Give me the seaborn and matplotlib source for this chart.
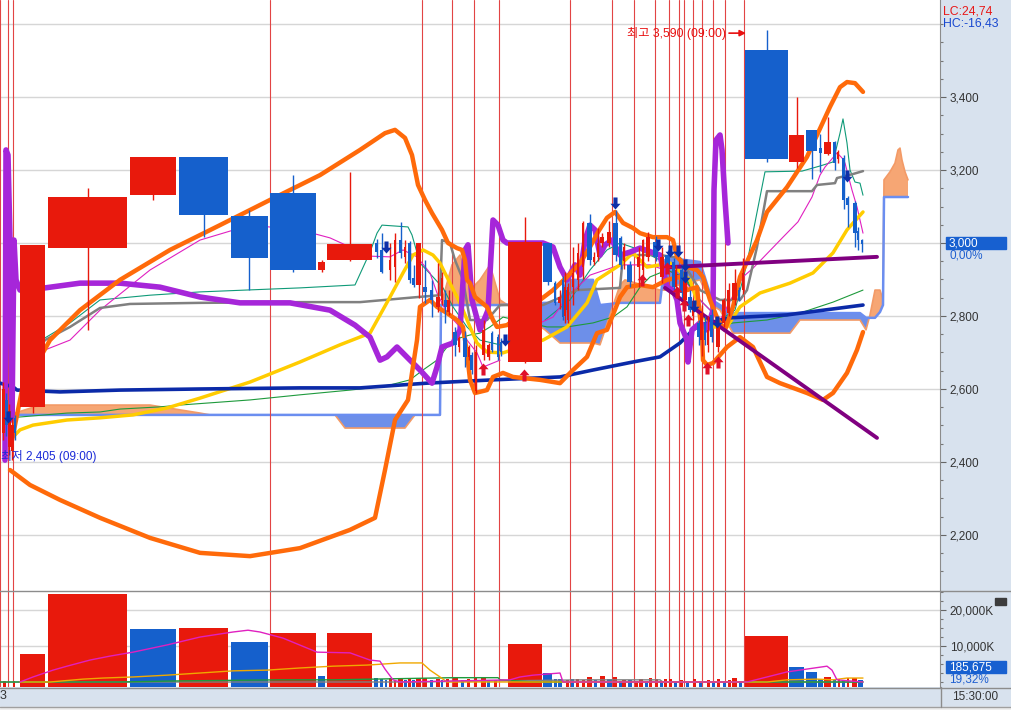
import numpy as np
import matplotlib
matplotlib.use("Agg")
import matplotlib.pyplot as plt
from matplotlib.path import Path
from matplotlib.patches import Rectangle
from matplotlib.lines import Line2D
import seaborn as sns

sns.set_style("white")
plt.rcParams['font.family'] = ['Liberation Sans', 'Noto Sans CJK KR', 'DejaVu Sans']

# ---- candles (position, width, open, high, low, close) ----
cd_x = [3, 6, 9, 12, 15,
        32.5, 87.5, 153, 203.5, 249, 293, 321.5, 349.5,
        376.5, 381.5, 389.5, 394.5, 400.5, 405, 409.5, 413.5, 418.5, 425, 431.5, 437.5, 442, 445, 448.5, 455, 459, 465, 469, 471.5, 476, 483.5, 488.5, 492, 497.5, 501,
        525, 547.5,
        555, 559.5, 562.5, 564.5, 566.5, 568, 573, 578, 582.5, 589.5, 594, 598, 602, 609, 615.5, 620.5, 624, 629.5, 638.5, 643, 648, 655.5, 662, 667.5, 673.5, 676, 681.5, 685, 690, 692.5, 698.5, 701.5, 705, 707.5, 711.5, 718, 723.5, 728.5, 734.5, 739, 743,
        766.5, 796.5, 811.5, 820, 827.5, 834.5, 837.5, 843.5, 847.5, 854.5, 858, 861.5]
cd_w = [3, 3, 3, 3, 2,
        25, 79, 46, 49, 37, 46, 7, 45,
        3, 3, 2, 2, 3, 2.5, 3, 3, 5, 4, 3, 4, 2, 3, 3, 4, 2, 4, 2, 3, 2.5, 3, 3, 2, 2, 2,
        34, 9,
        2, 3, 1.5, 1.5, 1.5, 2, 2, 2, 1.5, 5, 2, 2, 4, 4, 5, 3, 2, 5, 3, 2, 4, 5, 4, 5, 3, 2, 3, 4, 4, 1, 3, 3, 2, 1.5, 3, 4, 3, 3, 5, 2, 2,
        43, 15, 11, 3, 7, 3, 1.5, 3, 3, 4, 2, 2]
cd_o = [2480, 2570, 2440, 2430, 2520,
        2551, 2986, 3131, 3236, 3074, 3137, 2926, 2953,
        3000, 2981, 2926, 2934, 3008, 2962, 3000, 2904, 2885, 2880, 2871, 2825, 2844, 2844, 2811, 2756, 2715, 2740, 2688, 2693, 2595, 2693, 2688, 2753, 2742, 2730,
        2674, 3000,
        2890, 2836, 2899, 2800, 2871, 2789, 2879, 2899, 2934, 3055, 2948, 2962, 3000, 3000, 3055, 3013, 2950, 2940, 2934, 2926, 2962, 3003, 2907, 2967, 2948, 2879, 2926, 2844, 2852, 2800, 2781, 2734, 2781, 2721, 2803, 2715, 2781, 2808, 2844, 2871, 2871,
        3529, 3222, 3310, 3260, 3244, 3277, 3230, 3233, 3123, 3110, 3033, 3008]
cd_h = [2620, 2590, 2560, 2520, 2530,
        2995, 3150, 3236, 3236, 3090, 3186, 2953, 3195,
        3010, 3027, 3000, 3027, 3058, 3008, 3005, 2940, 3000, 2953, 2899, 2945, 2920, 2870, 2871, 2770, 2745, 2760, 2720, 2700, 2720, 2790, 2725, 2760, 2750, 2740,
        3071, 3000,
        2895, 2870, 2910, 2920, 2880, 2890, 2990, 3000, 3060, 3080, 2975, 3040, 3027, 3060, 3090, 3020, 3000, 2950, 2990, 3010, 3030, 3020, 2990, 2980, 2960, 2940, 2940, 2930, 2870, 2850, 2790, 2830, 2800, 2800, 2820, 2790, 2850, 2890, 2930, 2880, 2960,
        3584, 3400, 3310, 3300, 3345, 3280, 3255, 3240, 3130, 3115, 3044, 3010]
cd_l = [2460, 2470, 2420, 2405, 2460,
        2534, 2762, 3118, 3016, 2870, 2920, 2920, 2950,
        2960, 2918, 2899, 2893, 2959, 2945, 2890, 2880, 2850, 2836, 2797, 2811, 2830, 2780, 2803, 2690, 2700, 2660, 2680, 2640, 2590, 2680, 2680, 2700, 2680, 2690,
        2670, 2885,
        2830, 2820, 2790, 2780, 2810, 2780, 2830, 2870, 2900, 2940, 2940, 2950, 2990, 2990, 2950, 2930, 2930, 2880, 2880, 2900, 2950, 2950, 2890, 2920, 2870, 2860, 2850, 2830, 2810, 2790, 2720, 2690, 2720, 2700, 2730, 2700, 2770, 2800, 2830, 2840, 2860,
        3222, 3205, 3175, 3195, 3240, 3200, 3220, 3093, 3044, 2989, 2981, 2975]
cd_c = [2600, 2500, 2540, 2500, 2480,
        2995, 3126, 3236, 3077, 2959, 2926, 2948, 2997,
        2975, 2920, 2953, 3008, 2973, 2989, 2899, 2885, 3000, 2866, 2844, 2852, 2904, 2825, 2844, 2720, 2740, 2688, 2715, 2652, 2700, 2762, 2720, 2707, 2688, 2700,
        3003, 2893,
        2836, 2852, 2797, 2880, 2816, 2879, 2918, 2973, 3055, 2953, 2962, 3000, 3016, 3030, 2967, 2940, 2990, 2893, 2962, 3008, 3016, 2962, 2962, 2931, 2879, 2926, 2863, 2899, 2816, 2840, 2742, 2808, 2734, 2762, 2742, 2781, 2844, 2871, 2890, 2844, 2918,
        3230, 3296, 3252, 3247, 3277, 3219, 3250, 3118, 3104, 3027, 3008, 2997]

# ---- volume (K) ----
vol_x = [4, 14, 32.5, 87.5, 153, 203.5, 249, 293, 321.5, 349.5,
         376, 381.5, 386, 390.5, 395, 400.5, 405.5, 409.5, 413, 418.5, 425, 431.5, 437.5, 442, 447, 455.5, 462, 468, 475.5, 483.5, 488.5, 495,
         525, 547.5, 555.5, 560, 567, 572, 577.5, 583, 589.5, 595, 602.5, 609.5, 615, 620, 624, 630, 636, 641, 646, 650.5, 656.5, 661, 665.5, 670.5, 675, 681, 687, 694.5, 700, 708, 713, 718.5, 724, 729, 734.5, 740,
         766.5, 796.5, 811.5, 820.5, 827.5, 834, 839, 843.5, 847.5, 854.5, 860.5]
vol_w = [3, 2, 25, 79, 46, 49, 37, 46, 7, 45,
         4, 3, 2, 3, 2, 5, 3, 3, 3, 5, 4, 3, 4, 2, 3, 5, 3, 3, 3, 5, 3, 3,
         34, 9, 3, 4, 3, 3, 3, 3, 5, 3, 5, 5, 4, 3, 4, 4, 3, 4, 3, 3, 3, 3, 3, 3, 3, 3, 3, 3, 3, 3, 3, 3, 3, 3, 5, 3,
         43, 15, 11, 5, 7, 3, 2, 3, 2, 5, 5]
vol_v = [400, 200, 7800, 24400, 14700, 15000, 11100, 13600, 1700, 13600,
         1100, 900, 600, 1000, 600, 1100, 600, 800, 600, 1000, 1000, 600, 800, 500, 700, 1300, 600, 700, 1000, 1300, 600, 500,
         10600, 2500, 700, 700, 500, 700, 900, 600, 1400, 500, 1600, 800, 1400, 400, 500, 500, 400, 800, 400, 1000, 700, 400, 800, 700, 300, 500, 300, 700, 400, 600, 300, 700, 400, 500, 1200, 400,
         12800, 4200, 2800, 900, 1400, 600, 700, 500, 1000, 1000, 600]
vol_up = [1, 1, 1, 1, 0, 1, 0, 1, 0, 1,
          0, 0, 0, 1, 1, 1, 0, 1, 0, 1, 1, 0, 1, 0, 1, 1, 0, 1, 1, 1, 0, 1,
          1, 0, 0, 0, 1, 0, 1, 1, 1, 0, 1, 0, 1, 0, 1, 0, 1, 1, 0, 1, 1, 0, 1, 1, 0, 1, 0, 1, 0, 1, 0, 1, 0, 1, 1, 0,
          1, 0, 0, 0, 1, 0, 1, 0, 1, 1, 0]

vm_mag_x = [20, 33, 53, 67, 90, 110, 133, 167, 200, 233, 248, 260, 283, 317, 350, 370, 380, 385, 393, 400, 510, 520, 533, 560, 563, 733, 747, 767, 787, 807, 827, 832, 837, 863]
vm_mag = [0, 1400, 3300, 4400, 6100, 7200, 8300, 10300, 12500, 13900, 14400, 13900, 12200, 8300, 8100, 6100, 5800, 3600, 600, 0, 600, 1400, 1900, 2500, 0, 0, 0, 1400, 2800, 3600, 4400, 3300, 600, 0]
vm_org_x = [20, 50, 83, 103, 133, 167, 200, 233, 267, 300, 333, 367, 400, 422, 430, 440, 447, 753, 767, 787, 817, 833, 847, 863]
vm_org = [0, 0, 800, 1100, 1400, 1900, 2500, 3100, 3300, 3900, 4400, 4700, 5300, 5300, 3300, 1400, 0, 0, 0, 600, 800, 600, 1100, 1100]
vm_grn_x = [0, 120, 177, 280, 333, 393, 453, 498, 500, 533, 863]
vm_grn = [0, 0, 300, 600, 600, 900, 1200, 1200, 600, 0, 0]
vm_gry_x = [0, 300, 413, 498, 583, 660, 663, 863]
vm_gry = [0, 0, 0, 300, 600, 600, 0, 0]

# ---- ichimoku cloud spans ----
cloud_x = [15, 40, 150, 200, 210, 335, 345, 405, 415, 440, 441, 452, 460, 470, 480, 490, 500, 545, 560, 567, 593, 600, 620, 625, 660, 665, 670, 700, 712, 720, 733, 790, 800, 860, 866, 870, 875, 880, 883, 884, 890, 895, 898, 900, 902, 905, 908]
span1 = [2529, 2529, 2529, 2529, 2529, 2529, 2529, 2529, 2529, 2529, 2830, 2830, 2830, 2830, 2830, 2830, 2830, 2836, 2836, 2899, 2899, 2830, 2836, 2836, 2836, 2953, 2959, 2948, 2844, 2830, 2808, 2808, 2808, 2808, 2795, 2795, 2795, 2811, 2830, 3126, 3126, 3126, 3126, 3126, 3126, 3126, 3126]
span2 = [2534, 2556, 2556, 2534, 2529, 2529, 2493, 2493, 2529, 2529, 2830, 2940, 2967, 2871, 2899, 2940, 2844, 2762, 2726, 2726, 2726, 2721, 2885, 2899, 2871, 2871, 2879, 2899, 2830, 2816, 2753, 2753, 2789, 2789, 2762, 2803, 2871, 2871, 2844, 3173, 3195, 3219, 3255, 3260, 3227, 3195, 3173]

# ---- overlay lines ----
org_up_x = [12, 22, 50, 80, 120, 170, 220, 270, 320, 360, 385, 395, 405, 412, 418, 425, 432, 442, 448, 457, 462, 465, 467, 470, 475, 487, 493, 497, 507,
            540, 553, 567, 580, 590, 598, 607, 615, 623, 633, 640, 653, 667, 673, 677, 687, 697, 703, 710, 718, 725, 733, 740, 757, 767, 787, 807, 830, 840, 847, 855, 863]
org_up = [2460, 2597, 2734, 2816, 2899, 2981, 3049, 3118, 3186, 3255, 3301, 3310, 3288, 3241, 3159, 3118, 3082, 3036, 3000, 2986, 2981, 2953, 2899, 2890, 2852, 2825, 2789, 2770, 2775,
          2844, 2871, 2907, 2945, 2989, 3030, 3069, 3085, 3055, 3041, 3027, 3016, 3016, 3008, 2962, 2934, 2926, 2907, 2844, 2789, 2762, 2825, 2907, 3008, 3085, 3153, 3236, 3373, 3427, 3441, 3438, 3414]
org_dn_x = [10, 30, 60, 100, 150, 200, 250, 300, 350, 375, 385, 395, 408, 412, 417, 420, 430, 437, 447, 457, 463, 467, 470, 475, 487, 493, 503, 513,
            540, 560, 573, 587, 597, 607, 620, 627, 640, 653, 667, 680, 687, 697, 700, 702, 703, 707, 713, 727, 740, 753, 767, 780, 807, 823, 833, 847, 857, 863]
org_dn = [2378, 2337, 2296, 2247, 2192, 2151, 2142, 2164, 2214, 2247, 2378, 2515, 2570, 2644, 2734, 2825, 2844, 2825, 2808, 2789, 2770, 2699, 2625, 2589, 2597, 2633, 2644, 2633,
          2625, 2616, 2652, 2688, 2753, 2762, 2852, 2879, 2885, 2879, 2899, 2907, 2871, 2879, 2797, 2753, 2679, 2666, 2671, 2715, 2742, 2715, 2633, 2616, 2589, 2570, 2589, 2644, 2707, 2756]
pur_x = [5, 6, 8, 10, 12, 14, 16, 20, 45, 80, 120, 160, 200, 240, 290, 330, 355, 370, 380, 387, 397, 410, 420, 432, 437, 442, 453, 460, 465, 468, 472, 480, 488, 493, 498, 503, 507,
         543, 553, 560, 567, 575, 580, 585, 590, 595, 600, 605, 612, 620, 630, 640, 660, 667, 673, 677, 680, 687, 688, 692, 700, 707, 713, 714, 716, 720, 722, 725, 728]
pur = [2405, 3255, 3241, 3008, 2515, 3008, 2899, 2871, 2877, 2890, 2890, 2879, 2852, 2836, 2836, 2816, 2775, 2742, 2679, 2688, 2715, 2679, 2652, 2616, 2660, 2715, 2726, 2762, 2981, 2995, 2844, 2762, 2816, 3063, 3049, 3008, 3000,
       3000, 2989, 2934, 2899, 2940, 2912, 3008, 3049, 3036, 2967, 2995, 3008, 2967, 2975, 2986, 2967, 2879, 2871, 2844, 2781, 2734, 2674, 2762, 2781, 2762, 2816, 3145, 3282, 3296, 3255, 3118, 3000]
yel_x = [10, 20, 33, 67, 100, 133, 167, 200, 250, 300, 340, 370, 390, 403, 413, 423, 433, 440, 450, 460, 470, 477, 487, 503, 543, 567, 587, 597, 620, 633, 647, 660, 670, 690, 700, 710, 727, 740, 760, 790, 813, 833, 847, 863]
yel = [2460, 2488, 2501, 2515, 2521, 2529, 2548, 2575, 2619, 2674, 2721, 2753, 2852, 2918, 2967, 2981, 2967, 2945, 2890, 2836, 2770, 2726, 2701, 2699, 2734, 2770, 2836, 2899, 2940, 2973, 2934, 2940, 2945, 2899, 2816, 2770, 2770, 2825, 2863, 2890, 2918, 2973, 3036, 3085]
dbl_x = [0, 13, 17, 60, 120, 200, 300, 360, 427, 493, 560, 593, 633, 660, 680, 693, 700, 730, 787, 863]
dbl = [2616, 2606, 2597, 2592, 2597, 2600, 2603, 2603, 2616, 2625, 2633, 2652, 2674, 2688, 2726, 2762, 2775, 2795, 2803, 2830]
gry_x = [30, 45, 70, 100, 130, 200, 300, 360, 418, 440, 442, 450, 455, 463, 470, 487, 500, 543, 577, 620, 623, 660, 680, 700, 720, 740, 747, 757, 767, 812, 817, 835, 837, 853, 863]
gry = [2679, 2734, 2770, 2822, 2833, 2836, 2838, 2838, 2852, 2857, 3008, 3000, 2953, 2899, 2789, 2789, 2830, 2830, 2871, 2877, 2967, 2967, 2959, 2871, 2844, 2844, 2871, 2989, 3142, 3142, 3159, 3164, 3178, 3189, 3197]
tea_a_x = [45, 70, 100, 150, 200, 300, 355, 370, 377, 382, 408, 412, 420, 433, 443, 453, 467, 480, 500]
tea_a = [2740, 2781, 2844, 2857, 2866, 2877, 2885, 2975, 3027, 3049, 3044, 3022, 2945, 2907, 2877, 2825, 2770, 2734, 2721]
tea_b_x = [545, 570, 590, 607, 620, 640, 660, 680, 700, 720, 735, 747, 765, 802, 820, 833, 840, 843, 847, 850, 855, 860, 863]
tea_b = [2789, 2844, 2926, 2981, 3000, 2981, 2953, 2926, 2844, 2789, 2816, 2945, 3195, 3197, 3211, 3222, 3301, 3340, 3274, 3200, 3167, 3164, 3131]
mag_a_x = [45, 70, 100, 150, 200, 250, 300, 330, 370, 390, 403, 417, 430, 437, 447, 460, 467, 477, 483, 500]
mag_a = [2707, 2734, 2816, 2926, 3008, 3049, 3036, 3014, 2964, 2962, 2981, 2962, 2918, 2863, 2808, 2770, 2734, 2699, 2660, 2679]
mag_b_x = [540, 553, 567, 590, 620, 650, 680, 700, 720, 743, 753, 783, 798, 812, 820, 825, 837, 842, 845, 852, 857, 863]
mag_b = [2781, 2797, 2852, 2912, 2940, 2940, 2912, 2844, 2789, 2907, 2931, 3016, 3058, 3126, 3186, 3208, 3247, 3233, 3219, 3145, 3099, 3027]
grn_x = [10, 67, 100, 120, 160, 180, 250, 300, 350, 370, 390, 410, 423, 437, 447, 460, 470, 480, 490, 503, 547, 567, 593, 613, 627, 640, 650, 667, 683, 693, 700, 707, 720, 733, 767, 800, 833, 863]
grn = [2521, 2534, 2537, 2545, 2551, 2556, 2570, 2584, 2597, 2603, 2611, 2625, 2652, 2679, 2715, 2740, 2748, 2753, 2770, 2797, 2770, 2770, 2781, 2797, 2825, 2879, 2907, 2926, 2907, 2871, 2816, 2781, 2770, 2781, 2789, 2808, 2838, 2871]
trd_h_x = [670, 877]
trd_h = [2934, 2962]
trd_d_x = [665, 877]
trd_d = [2877, 2466]

# ---- signal arrows ----
up_x = [483, 524, 642, 667, 677, 684, 688, 707, 718]
up_p = [2655, 2638, 2899, 2931, 2866, 2830, 2789, 2657, 2674]
dn_x = [8, 386, 505, 615, 658, 670, 678, 685, 685, 694, 717, 847]
dn_p = [2523, 2989, 2734, 3110, 2995, 2978, 2978, 2940, 2907, 2827, 2784, 3184]

vline_x = [0, 8, 13, 270, 422, 452, 474, 499, 570, 612, 634, 655, 669, 679, 684, 693, 702, 713, 725, 744]
price_grid = [2200, 2400, 2600, 2800, 3000, 3200, 3400, 3600]

RED = '#e8190c'
BLUE = '#1560cc'
STRIP = '#d8e2ee'
W, H = 1011, 710
VOL_FLOOR = -1390


def fx(px):
    return px / W


def fy(py):
    return 1 - py / H


def line(a, xs, ys, color, lw, z):
    sns.lineplot(x=xs, y=ys, ax=a, color=color, linewidth=lw, sort=False,
                 estimator=None, legend=False, zorder=z, solid_joinstyle='round')


fig = plt.figure(figsize=(W / 100, H / 100), dpi=100)
fig.patch.set_facecolor(STRIP)
ax = fig.add_axes([0, fy(591), 940 / W, 591 / H])
axv = fig.add_axes([0, fy(687), 940 / W, 96 / H])

for a in (ax, axv):
    a.set_facecolor('white')
    a.set_xlim(0, 940)
    a.set_xticks([])
    for s in ('top', 'left', 'bottom'):
        a.spines[s].set_visible(False)
    a.spines['right'].set_color('#8c8c8c')
    a.yaxis.tick_right()
    for vx in vline_x:
        a.axvline(vx, color='#e24444', lw=0.8, zorder=3)

ax.set_ylim(2046.5, 3665.8)
axv.set_ylim(VOL_FLOOR, 25300)

for g in price_grid:
    ax.axhline(g, color='#d6d6d6', lw=1, zorder=0)
for g in (10000, 20000):
    axv.axhline(g, color='#d6d6d6', lw=1, zorder=0)

# cloud
cx = np.array(cloud_x)
s1 = np.array(span1)
s2 = np.array(span2)
ax.fill_between(cx, s1, s2, where=s2 >= s1, interpolate=True, color='#f6a674', lw=0, zorder=1)
ax.fill_between(cx, s1, s2, where=s2 < s1, interpolate=True, color='#6d8fe9', lw=0, zorder=1)
line(ax, cloud_x, span2, '#f39a66', 1.2, 2)
line(ax, cloud_x, span1, '#6b8ef0', 1.8, 2)

# indicator lines
line(ax, tea_a_x, tea_a, '#0f9a78', 0.8, 4)
line(ax, tea_b_x, tea_b, '#0f9a78', 0.8, 4)
line(ax, mag_a_x, mag_a, '#e020c0', 0.8, 4)
line(ax, mag_b_x, mag_b, '#e020c0', 0.8, 4)
line(ax, grn_x, grn, '#1e9a3c', 0.8, 4)
line(ax, gry_x, gry, '#808080', 1.8, 4.2)
line(ax, yel_x, yel, '#ffcc00', 2.5, 4.5)
line(ax, dbl_x, dbl, '#0b2aa8', 2.6, 4.6)
line(ax, pur_x, pur, '#a626d9', 4, 4.7)
line(ax, org_dn_x, org_dn, '#ff6a0a', 3.2, 5)
line(ax, org_up_x, org_up, '#ff6a0a', 3.2, 5)
line(ax, trd_h_x, trd_h, '#800080', 2.8, 5.2)
line(ax, trd_d_x, trd_d, '#800080', 2.8, 5.2)

# candles
o = np.array(cd_o, float)
c = np.array(cd_c, float)
cols = np.where(c >= o, RED, BLUE)
ax.vlines(cd_x, cd_l, cd_h, colors=cols, lw=1, zorder=6)
body = np.maximum(np.abs(c - o), 5)
ax.bar(cd_x, body, bottom=np.minimum(o, c), width=cd_w, color=cols, linewidth=0, zorder=7)

# arrows
head = [(0, 0.5), (-0.42, 0.02), (-0.17, 0.02), (-0.17, -0.5), (0.17, -0.5), (0.17, 0.02), (0.42, 0.02), (0, 0.5)]
arrow_up = Path(head, closed=True)
arrow_dn = Path([(px, -py) for px, py in head], closed=True)
ax.scatter(up_x, up_p, marker=arrow_up, s=75, c='#e0102a', linewidths=0, zorder=8)
ax.scatter(dn_x, dn_p, marker=arrow_dn, s=75, c='#0d2fa8', linewidths=0, zorder=8)

# annotations
ax.text(726, 3575, '최고 3,590 (09:00)', color='#e81010', fontsize=8.8, ha='right', va='center', zorder=9)
ax.annotate('', xy=(746, 3575), xytext=(729, 3575),
            arrowprops=dict(arrowstyle='-|>', color='#e81010', lw=1.2, mutation_scale=9, shrinkA=0, shrinkB=0), zorder=9)
ax.text(1, 2414, '최저 2,405 (09:00)', color='#1a2ad8', fontsize=8.5, ha='left', va='center', zorder=9)

# volume
vcols = np.where(np.array(vol_up) == 1, RED, BLUE)
axv.bar(vol_x, np.array(vol_v) - VOL_FLOOR, bottom=VOL_FLOOR, width=vol_w, color=vcols, linewidth=0, zorder=4)
line(axv, vm_gry_x, vm_gry, '#808080', 1.0, 5)
line(axv, vm_grn_x, vm_grn, '#1e9a3c', 1.0, 5)
line(axv, vm_org_x, vm_org, '#f0a800', 1.0, 5)
line(axv, vm_mag_x, vm_mag, '#e020c0', 1.0, 5)

# axes ticks
ax.set_yticks([2200, 2400, 2600, 2800, 3000, 3200, 3400])
ax.set_yticklabels(['2,200', '2,400', '2,600', '2,800', '', '3,200', '3,400'])
ax.set_yticks(np.arange(2100, 3650, 50), minor=True)
axv.set_yticks([10000, 20000])
axv.set_yticklabels(['10,000K', '20,000K'])
axv.set_yticks(np.arange(0, 25001, 2500), minor=True)
for a in (ax, axv):
    a.tick_params(axis='y', which='major', direction='out', length=4, width=0.8,
                  color='#666666', labelsize=8.5, labelcolor='#333333', pad=3)
    a.tick_params(axis='y', which='minor', direction='out', length=2.5, width=0.8, color='#777777')

# right strip labels
fig.add_artist(Rectangle((fx(946), fy(249)), fx(60), 12 / H, transform=fig.transFigure, color='#1760d0'))
fig.text(fx(949), fy(243), '3,000', color='white', fontsize=8.5, va='center')
fig.text(fx(949), fy(256), '0,00%', color='#1f5fd0', fontsize=8.5, va='center')
fig.add_artist(Rectangle((fx(946), fy(673)), fx(60), 12 / H, transform=fig.transFigure, color='#1760d0'))
fig.text(fx(949), fy(667), '185,675', color='white', fontsize=8.5, va='center')
fig.text(fx(949), fy(680), '19,32%', color='#1f5fd0', fontsize=8.5, va='center')
fig.text(fx(943), fy(11), 'LC:24,74', color='#e81818', fontsize=8.8, va='center')
fig.text(fx(943), fy(23), 'HC:-16,43', color='#1848d0', fontsize=8.8, va='center')
fig.add_artist(Rectangle((fx(995), fy(605)), fx(11), 7 / H, transform=fig.transFigure, color='#3c3c3c'))

# borders and bottom strip
fig.add_artist(Line2D([0, 1], [fy(591), fy(591)], transform=fig.transFigure, color='#8c8c8c', lw=1))
fig.add_artist(Line2D([0, 1], [fy(687.5), fy(687.5)], transform=fig.transFigure, color='#8c8c8c', lw=1))
fig.add_artist(Rectangle((0, 0), 1, 3 / H, transform=fig.transFigure, color='#eeeeee'))
fig.add_artist(Line2D([0, 1], [fy(707), fy(707)], transform=fig.transFigure, color='#a0a0a0', lw=1))
fig.add_artist(Line2D([fx(940.5), fx(940.5)], [fy(687), fy(707)], transform=fig.transFigure, color='#8c8c8c', lw=1))
fig.text(fx(975), fy(697), '15:30:00', color='#333333', fontsize=8.5, ha='center', va='center')
fig.text(fx(0), fy(696), '3', color='#333333', fontsize=9, ha='left', va='center')

fig.savefig('out.png', dpi=100, facecolor=fig.get_facecolor())
